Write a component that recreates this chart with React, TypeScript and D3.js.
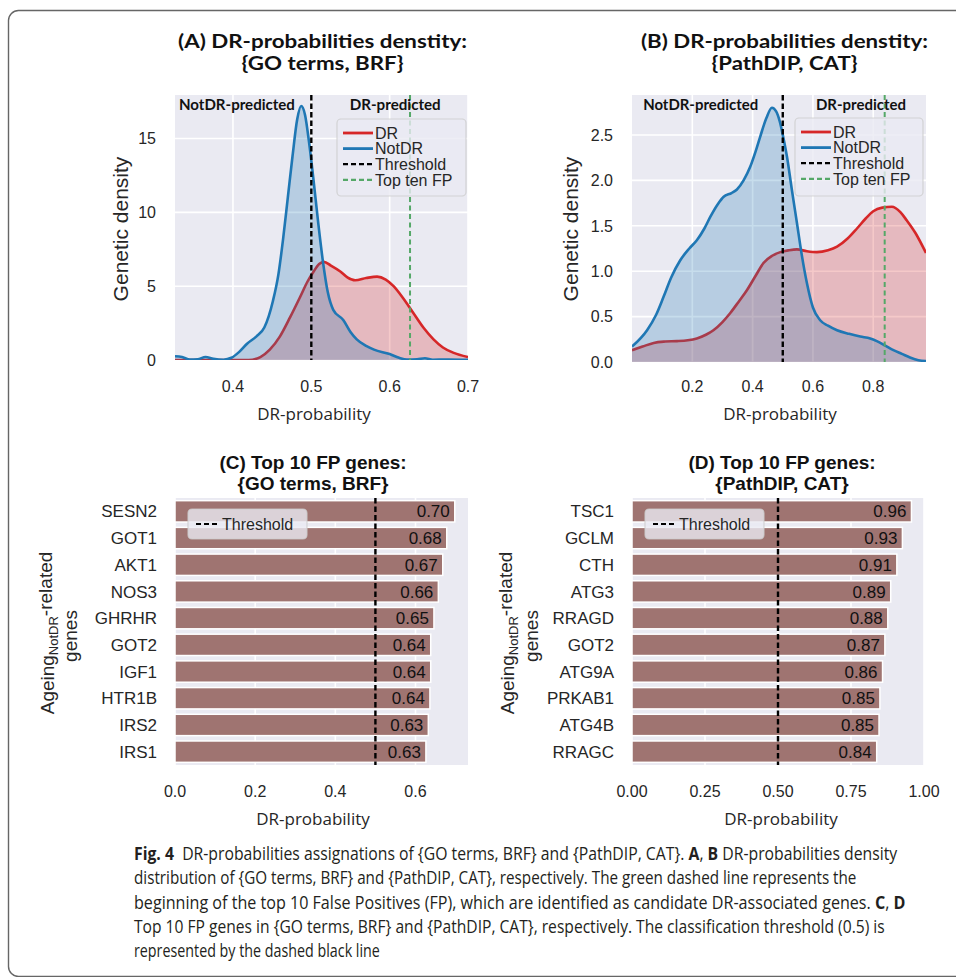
import React, { useLayoutEffect, useRef } from 'react';
import * as d3 from 'd3';

// density curves: [DR-probability, density]
const drDensityA: [number, number][] = [
  [0.326, 0], [0.42, 0], [0.435, 0.2], [0.447, 0.7], [0.46, 1.6], [0.473, 2.9], [0.486, 4.3],
  [0.495, 5.3], [0.503, 6.0], [0.51, 6.5], [0.516, 6.65], [0.525, 6.4], [0.537, 6.0],
  [0.546, 5.6], [0.556, 5.4], [0.57, 5.55], [0.584, 5.65], [0.595, 5.45], [0.605, 5.0],
  [0.617, 4.2], [0.63, 3.2], [0.643, 2.2], [0.656, 1.4], [0.668, 0.85], [0.681, 0.5], [0.7, 0.2],
];
const notDrDensityA: [number, number][] = [
  [0.326, 0.25], [0.335, 0.2], [0.345, 0.03], [0.355, 0.05], [0.365, 0.2], [0.375, 0.08],
  [0.388, 0.02], [0.398, 0.15], [0.408, 0.55], [0.418, 1.1], [0.43, 1.6], [0.44, 2.2],
  [0.451, 4.0], [0.458, 5.8], [0.464, 8.2], [0.47, 11.0], [0.476, 13.8], [0.482, 16.3],
  [0.487, 17.2], [0.492, 16.6], [0.497, 14.8], [0.503, 12.1], [0.509, 9.2], [0.515, 6.6],
  [0.521, 4.6], [0.528, 3.4], [0.541, 2.7], [0.55, 1.9], [0.558, 1.4], [0.57, 0.95],
  [0.58, 0.7], [0.6, 0.4], [0.612, 0.15], [0.622, 0.03], [0.635, 0.05], [0.645, 0.12],
  [0.655, 0.02], [0.675, 0.03], [0.7, 0.01],
];
const drDensityB: [number, number][] = [
  [0, 0.13], [0.035, 0.17], [0.072, 0.21], [0.11, 0.225], [0.149, 0.23], [0.185, 0.24],
  [0.215, 0.26], [0.245, 0.3], [0.27, 0.35], [0.3, 0.44], [0.326, 0.54], [0.355, 0.67],
  [0.381, 0.79], [0.41, 0.95], [0.436, 1.09], [0.465, 1.17], [0.492, 1.21], [0.52, 1.23],
  [0.547, 1.24], [0.58, 1.22], [0.613, 1.21], [0.65, 1.23], [0.68, 1.27], [0.715, 1.36],
  [0.746, 1.47], [0.775, 1.58], [0.8, 1.66], [0.83, 1.7], [0.862, 1.71], [0.89, 1.65],
  [0.911, 1.56], [0.94, 1.42], [0.975, 1.2],
];
const notDrDensityB: [number, number][] = [
  [0, 0.17], [0.05, 0.35], [0.08, 0.52], [0.105, 0.72], [0.13, 0.93], [0.16, 1.12],
  [0.19, 1.25], [0.215, 1.34], [0.24, 1.47], [0.26, 1.6], [0.285, 1.74], [0.304, 1.82],
  [0.33, 1.86], [0.348, 1.9], [0.37, 2.0], [0.392, 2.15], [0.41, 2.32], [0.425, 2.48],
  [0.445, 2.68], [0.464, 2.8], [0.478, 2.76], [0.49, 2.65], [0.502, 2.47], [0.514, 2.26],
  [0.53, 1.9], [0.547, 1.53], [0.563, 1.18], [0.58, 0.87], [0.6, 0.6], [0.624, 0.46],
  [0.65, 0.4], [0.68, 0.35], [0.72, 0.31], [0.757, 0.28], [0.79, 0.26], [0.812, 0.23],
  [0.84, 0.18], [0.867, 0.13], [0.895, 0.09], [0.922, 0.05], [0.95, 0.02], [0.975, 0.01],
];

const genesC = ['SESN2', 'GOT1', 'AKT1', 'NOS3', 'GHRHR', 'GOT2', 'IGF1', 'HTR1B', 'IRS2', 'IRS1'];
const probsC = [0.698, 0.678, 0.668, 0.657, 0.646, 0.638, 0.638, 0.636, 0.632, 0.626];
const genesD = ['TSC1', 'GCLM', 'CTH', 'ATG3', 'RRAGD', 'GOT2', 'ATG9A', 'PRKAB1', 'ATG4B', 'RRAGC'];
const probsD = [0.957, 0.926, 0.907, 0.886, 0.876, 0.866, 0.858, 0.849, 0.846, 0.838];

const ticksA = [0.4, 0.5, 0.6, 0.7];
const yTicksA = [0, 5, 10, 15];
const ticksB = [0.2, 0.4, 0.6, 0.8];
const yTicksB = [0, 0.5, 1, 1.5, 2, 2.5];
const ticksC = [0, 0.2, 0.4, 0.6];
const ticksD = [0, 0.25, 0.5, 0.75, 1];

const THRESHOLD = 0.5;

const legendItems = [
  { label: 'DR', color: '#d62728', dash: null },
  { label: 'NotDR', color: '#1f77b4', dash: null },
  { label: 'Threshold', color: '#000', dash: '5,3' },
  { label: 'Top ten FP', color: '#55a868', dash: '5,3' },
];

const SANS = "'Liberation Sans', Arial, sans-serif";
const OPEN = "'Open Sans', sans-serif";
const LATO = "Lato, 'Open Sans', sans-serif";
const BG = '#eaeaf2';
const TXT = '#262626';

function DensityPanel(props: any) {
  const { id, left, right, top, bottom, xDomain, yDomain, xTicks, yTicks, yFmt, dr, notDr, fp,
    title, titleW, titleX, notX, drX, annW, legend, xLabelX, yLabelX } = props;
  const x = d3.scaleLinear().domain(xDomain).range([left, right]);
  const y = d3.scaleLinear().domain(yDomain).range([bottom, top]);
  const area = d3.area<[number, number]>().x(d => x(d[0])).y0(y(0)).y1(d => y(d[1])).curve(d3.curveMonotoneX);
  const line = d3.line<[number, number]>().x(d => x(d[0])).y(d => y(d[1])).curve(d3.curveMonotoneX);
  return (
    <g>
      <defs>
        <clipPath id={id}>
          <rect x={left} y={top} width={right - left} height={bottom - top} />
        </clipPath>
      </defs>
      <text x={titleX} y={48} textAnchor="middle" fontFamily={LATO} fontWeight="bold" fontSize={18}
        textLength={titleW[0]} lengthAdjust="spacingAndGlyphs" fill="#111">{title[0]}</text>
      <text x={titleX} y={70} textAnchor="middle" fontFamily={LATO} fontWeight="bold" fontSize={18}
        textLength={titleW[1]} lengthAdjust="spacingAndGlyphs" fill="#111">{title[1]}</text>
      <rect x={left} y={top} width={right - left} height={bottom - top} fill={BG} />
      {xTicks.map((t: number) => (
        <line key={'gx' + t} x1={x(t)} x2={x(t)} y1={top} y2={bottom} stroke="#fff" strokeWidth={1.6} />
      ))}
      {yTicks.map((t: number) => (
        <line key={'gy' + t} x1={left} x2={right} y1={y(t)} y2={y(t)} stroke="#fff" strokeWidth={1.6} />
      ))}
      <g clipPath={`url(#${id})`}>
        <path d={area(dr) || ''} fill="#d62728" fillOpacity={0.25} />
        <path d={line(dr) || ''} fill="none" stroke="#d62728" strokeWidth={2.6} />
        <path d={area(notDr) || ''} fill="#1f77b4" fillOpacity={0.25} />
        <path d={line(notDr) || ''} fill="none" stroke="#1f77b4" strokeWidth={2.6} />
        <line x1={x(THRESHOLD)} x2={x(THRESHOLD)} y1={top} y2={bottom} stroke="#000" strokeWidth={2.4} strokeDasharray="5.5,3" />
        <line x1={x(fp)} x2={x(fp)} y1={top} y2={bottom} stroke="#55a868" strokeWidth={2} strokeDasharray="5,3.5" />
      </g>
      <text x={x(notX)} y={110} fontFamily={LATO} fontWeight="bold" fontSize={15} fill="#111"
        textLength={annW[0]} lengthAdjust="spacingAndGlyphs">NotDR-predicted</text>
      <text x={x(drX)} y={110} fontFamily={LATO} fontWeight="bold" fontSize={15} fill="#111"
        textLength={annW[1]} lengthAdjust="spacingAndGlyphs">DR-predicted</text>
      <rect x={legend.x} y={legend.y} width={legend.w} height={legend.h} rx={4} fill={BG}
        fillOpacity={0.8} stroke="#cccccc" strokeOpacity={0.8} strokeWidth={1.2} />
      {legendItems.map((it, i) => {
        const ry = legend.y + 14 + i * 15.6;
        return (
          <g key={it.label}>
            <line x1={legend.x + 6} x2={legend.x + 36} y1={ry} y2={ry} stroke={it.color}
              strokeWidth={it.dash ? 2.2 : 2.8} strokeDasharray={it.dash || undefined} />
            <text x={legend.x + 38} y={ry} dy="0.36em" fontFamily={SANS} fontSize={16} fill={TXT}>{it.label}</text>
          </g>
        );
      })}
      {xTicks.map((t: number) => (
        <text key={'tx' + t} x={x(t)} y={392} textAnchor="middle" fontFamily={SANS} fontSize={16} fill={TXT}>
          {d3.format('.1f')(t)}
        </text>
      ))}
      {yTicks.map((t: number) => (
        <text key={'ty' + t} x={left - 19} y={y(t)} dy="0.36em" textAnchor="end" fontFamily={SANS} fontSize={16} fill={TXT}>
          {yFmt(t)}
        </text>
      ))}
      <text x={xLabelX} y={420} textAnchor="middle" fontFamily={OPEN} fontSize={17} fill={TXT}>DR-probability</text>
      <text transform={`translate(${yLabelX},229) rotate(-90)`} textAnchor="middle" dy="0.36em"
        fontFamily={SANS} fontSize={21} fill={TXT}>Genetic density</text>
    </g>
  );
}

function BarPanel(props: any) {
  const { left, right, genes, probs, xDomain, xTicks, tickFmt, title, titleX, legendX, xLabelX, yLab1X, yLab2X } = props;
  const top = 498;
  const bottom = 765;
  const x = d3.scaleLinear().domain(xDomain).range([left, right]);
  const y = d3.scaleBand<string>().domain(genes).range([top, bottom]).paddingInner(0.2).paddingOuter(0.1);
  return (
    <g>
      <text x={titleX} y={469} textAnchor="middle" fontFamily={SANS} fontWeight="bold" fontSize={19} fill="#111">{title[0]}</text>
      <text x={titleX} y={490} textAnchor="middle" fontFamily={SANS} fontWeight="bold" fontSize={19} fill="#111">{title[1]}</text>
      <rect x={left} y={top} width={right - left} height={bottom - top} fill={BG} />
      {xTicks.map((t: number) => (
        <line key={'g' + t} x1={x(t)} x2={x(t)} y1={top} y2={bottom} stroke="#fff" strokeWidth={1.6} />
      ))}
      {genes.map((g: string, i: number) => (
        <g key={g}>
          <rect x={x(0)} y={y(g)} width={x(probs[i]) - x(0)} height={y.bandwidth()} fill="#9f7471"
            stroke="#fff" strokeWidth={1.5} />
          <text x={x(probs[i]) - 5} y={(y(g) || 0) + y.bandwidth() / 2} dy="0.36em" textAnchor="end"
            fontFamily={SANS} fontSize={17} fill="#111">{probs[i].toFixed(2)}</text>
          <text x={left - 18} y={(y(g) || 0) + y.bandwidth() / 2} dy="0.36em" textAnchor="end"
            fontFamily={SANS} fontSize={17} fill={TXT}>{g}</text>
        </g>
      ))}
      <line x1={x(THRESHOLD)} x2={x(THRESHOLD)} y1={top} y2={bottom} stroke="#000" strokeWidth={2.4} strokeDasharray="5.5,3" />
      <rect x={legendX} y={509} width={119} height={30} rx={4} fill={BG} fillOpacity={0.8}
        stroke="#cccccc" strokeOpacity={0.8} strokeWidth={1.2} />
      <line x1={legendX + 8} x2={legendX + 31} y1={524} y2={524} stroke="#000" strokeWidth={2.2} strokeDasharray="5,3" />
      <text x={legendX + 34} y={524} dy="0.36em" fontFamily={SANS} fontSize={16} fill={TXT}>Threshold</text>
      {xTicks.map((t: number) => (
        <text key={'t' + t} x={x(t)} y={797} textAnchor="middle" fontFamily={SANS} fontSize={16} fill={TXT}>{tickFmt(t)}</text>
      ))}
      <text x={xLabelX} y={825} textAnchor="middle" fontFamily={OPEN} fontSize={17} fill={TXT}>DR-probability</text>
      <text transform={`translate(${yLab1X},633) rotate(-90)`} textAnchor="middle" dy="0.36em"
        fontFamily={SANS} fontSize={19} fill={TXT}>
        Ageing<tspan fontSize={13} dy="0.3em">NotDR</tspan><tspan dy="-0.3em">-related</tspan>
      </text>
      <text transform={`translate(${yLab2X},636) rotate(-90)`} textAnchor="middle" dy="0.36em"
        fontFamily={SANS} fontSize={19} fill={TXT}>genes</text>
    </g>
  );
}

// caption lines with target widths; bold parts flagged
const captionLines: { w: number; parts: [string, boolean][] }[] = [
  { w: 764, parts: [['Fig. 4', true], ['\u00a0 DR-probabilities assignations of {GO terms, BRF} and {PathDIP, CAT}. ', false], ['A', true], [', ', false], ['B', true], [' DR-probabilities density', false]] },
  { w: 723, parts: [['distribution of {GO terms, BRF} and {PathDIP, CAT}, respectively. The green dashed line represents the', false]] },
  { w: 772, parts: [['beginning of the top 10 False Positives (FP), which are identified as candidate DR-associated genes. ', false], ['C', true], [', ', false], ['D', true]] },
  { w: 751, parts: [['Top 10 FP genes in {GO terms, BRF} and {PathDIP, CAT}, respectively. The classification threshold (0.5) is', false]] },
  { w: 246, parts: [['represented by the dashed black line', false]] },
];

export default function App() {
  const capRefs = useRef<(SVGTextElement | null)[]>([]);

  useLayoutEffect(() => {
    // squeeze each caption line to the width of the condensed original font
    capRefs.current.forEach((el, i) => {
      if (!el) return;
      const w = el.getComputedTextLength();
      const sx = w > 0 ? captionLines[i].w / w : 1;
      el.setAttribute('transform', `translate(134,${860 + i * 24.3}) scale(${sx},1)`);
    });
  }, []);

  return (
    <svg width={956} height={977} style={{ position: 'absolute', left: 0, top: 0, background: '#fff' }}>
      <rect x={8.5} y={10.5} width={1000} height={966} rx={10} fill="none" stroke="#666" strokeWidth={1.4} />
      <DensityPanel id="clipA" left={175} right={468} top={95} bottom={360}
        xDomain={[0.326, 0.7]} yDomain={[0, 17.95]} xTicks={ticksA} yTicks={yTicksA}
        yFmt={(t: number) => String(t)} dr={drDensityA} notDr={notDrDensityA} fp={d3.min(probsC)}
        title={['(A) DR-probabilities denstity:', '{GO terms, BRF}']} titleW={[289, 162]} titleX={322.5}
        notX={0.331} drX={0.549} annW={[116, 91]} legend={{ x: 337, y: 119, w: 129, h: 77 }}
        xLabelX={314} yLabelX={120} />
      <DensityPanel id="clipB" left={632} right={926} top={95} bottom={362}
        xDomain={[0, 0.975]} yDomain={[0, 2.94]} xTicks={ticksB} yTicks={yTicksB}
        yFmt={(t: number) => d3.format('.1f')(t)} dr={drDensityB} notDr={notDrDensityB} fp={d3.min(probsD)}
        title={['(B) DR-probabilities denstity:', '{PathDIP, CAT}']} titleW={[287, 146]} titleX={784.5}
        notX={0.037} drX={0.61} annW={[115, 90]} legend={{ x: 795, y: 118, w: 128, h: 78 }}
        xLabelX={780} yLabelX={570} />
      <BarPanel left={175} right={468} genes={genesC} probs={probsC} xDomain={[0, 0.731]} xTicks={ticksC}
        tickFmt={(t: number) => d3.format('.1f')(t)} title={['(C) Top 10 FP genes:', '{GO terms, BRF}']}
        titleX={313} legendX={188} xLabelX={313} yLab1X={47} yLab2X={70} />
      <BarPanel left={632} right={924} genes={genesD} probs={probsD} xDomain={[0, 1]} xTicks={ticksD}
        tickFmt={(t: number) => d3.format('.2f')(t)} title={['(D) Top 10 FP genes:', '{PathDIP, CAT}']}
        titleX={782} legendX={645} xLabelX={781} yLab1X={507} yLab2X={531} />
      {captionLines.map((ln, i) => (
        <text key={i} ref={el => { capRefs.current[i] = el; }} transform={`translate(134,${860 + i * 24.3})`}
          fontFamily={OPEN} fontSize={17.5} fill="#231f20">
          {ln.parts.map((p, j) => (
            <tspan key={j} fontWeight={p[1] ? 'bold' : 'normal'}>{p[0]}</tspan>
          ))}
        </text>
      ))}
    </svg>
  );
}
